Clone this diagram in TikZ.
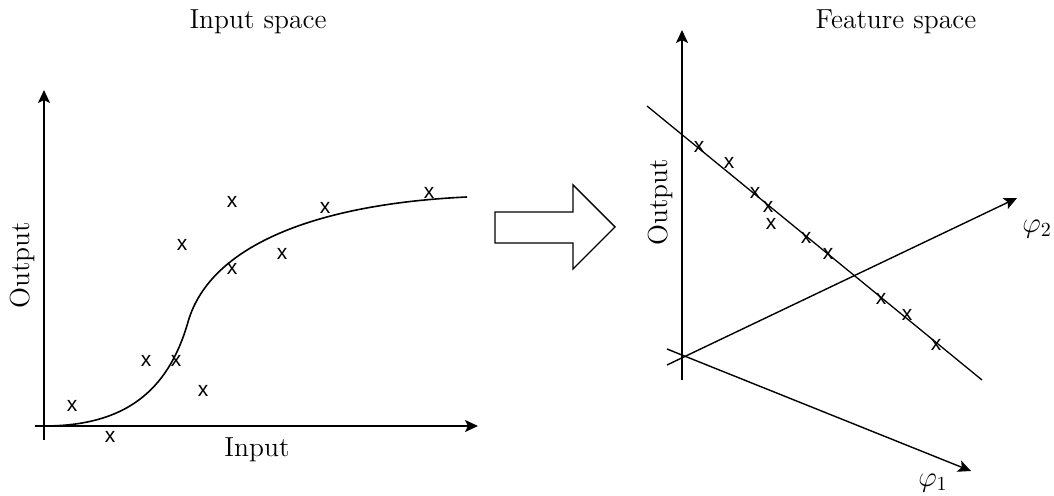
\documentclass[tikz,border=0pt]{standalone}
\usepackage{fontspec}
\newfontfamily\markfont{Liberation Sans}
\usetikzlibrary{arrows.meta}

\tikzset{
  axis/.style={line width=1pt,-{Stealth[length=6.5pt,width=6pt,inset=1.5pt]}},
  faxis/.style={line width=0.7pt,-{Stealth[length=6.5pt,width=6pt,inset=1.5pt]}},
  obs/.style={font=\markfont\fontsize{10.5}{10.5}\selectfont,inner sep=0pt},
  lbl/.style={font=\fontsize{13.75}{16}\selectfont,inner sep=0pt}
}

\begin{document}
\begin{tikzpicture}[x=0.5pt,y=-0.5pt]
    \useasboundingbox (0,0) rectangle (1054,496);

    % Input space: axes
    \node[lbl] (titleA) at (258,22) {Input space};
    \coordinate (xstartA) at (35,426);
    \coordinate (xendA) at (478,426);
    \coordinate (ystartA) at (44,440);
    \coordinate (yendA) at (44,90);
    \draw[axis] (xstartA) -- (xendA);
    \draw[axis] (ystartA) -- (yendA);
    \node[lbl] (inA) at (257,450) {Input};
    \node[lbl,rotate=90] (outA) at (22,265) {Output};

    % Fitted curve
    \coordinate (cA) at (44,426);
    \coordinate (cB) at (188,322);
    \coordinate (cC) at (467,197);
    \draw[line width=0.8pt] (cA) .. controls (124,426) and (168,392) .. (cB)
        .. controls (210,245) and (317,204) .. (cC);

    % Samples
    \foreach \px/\py [count=\i] in {72/406,110/437,146/361,176/361,182/245,
        203/391,232/202,232/269,282/254,325/208,429/193}
        \node[obs] (a\i) at (\px,\py) {x};

    % Mapping arrow
    \draw[line width=0.7pt] (495,212) -- (573,212) -- (573,185) -- (615,227)
        -- (573,269) -- (573,243) -- (495,243) -- cycle;

    % Feature space: axes
    \node[lbl] (titleB) at (896,22) {Feature space};
    \coordinate (ystartB) at (682,380);
    \coordinate (yendB) at (682,30);
    \coordinate (pstartA) at (667,349);
    \coordinate (pendA) at (971,471);
    \coordinate (pstartB) at (667,365);
    \coordinate (pendB) at (1017,198);
    \draw[axis] (ystartB) -- (yendB);
    \draw[faxis] (pstartA) -- (pendA);
    \draw[faxis] (pstartB) -- (pendB);
    \node[lbl] (phiA) at (933,483) {$\varphi_1$};
    \node[lbl] (phiB) at (1037,229) {$\varphi_2$};
    \node[lbl,rotate=90] (outB) at (660,202) {Output};

    % Fitted line
    \coordinate (lstart) at (647,106);
    \coordinate (lend) at (982,380);
    \draw[line width=0.65pt] (lstart) -- (lend);

    % Samples
    \foreach \px/\py [count=\i] in {699/147,729/163,755/193,768/207,771/224,
        806/238,828/254,881/299,907/315,936/345}
        \node[obs] (b\i) at (\px,\py) {x};
\end{tikzpicture}
\end{document}
